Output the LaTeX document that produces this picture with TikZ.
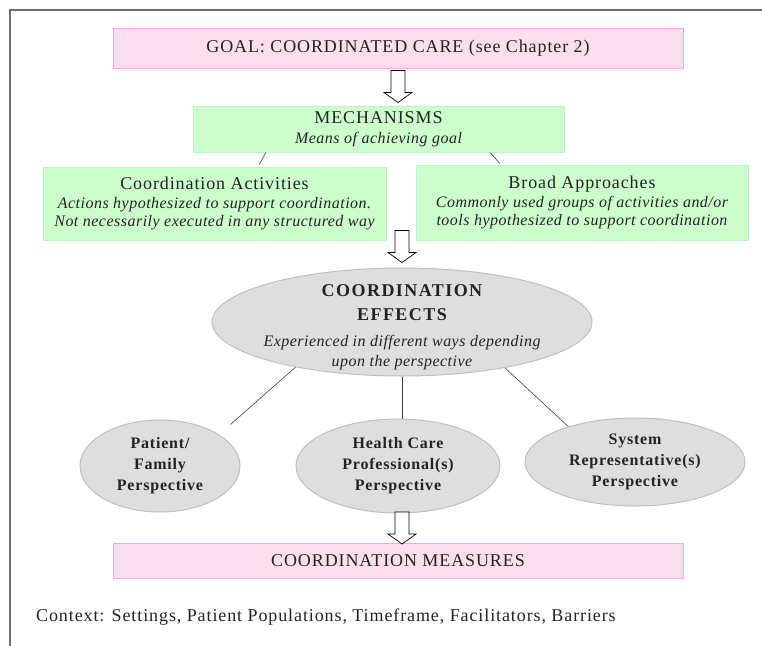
\documentclass[tikz,border=0pt]{standalone}
\usepackage{fontspec}
\setmainfont{Liberation Serif}
\newfontfamily\lsrm[LetterSpace=5]{Liberation Serif}
\newfontfamily\lsit[LetterSpace=3]{Liberation Serif}
\newfontfamily\lsbf[LetterSpace=5]{Liberation Serif}
\newfontfamily\lsbig[LetterSpace=8]{Liberation Serif}
\usetikzlibrary{shapes.geometric,calc}
\definecolor{pinkfill}{RGB}{252,222,238}
\definecolor{pinkline}{RGB}{255,165,208}
\definecolor{greenfill}{RGB}{204,255,204}
\definecolor{greenline}{RGB}{188,242,208}
\definecolor{grayfill}{RGB}{222,222,222}
\definecolor{grayline}{RGB}{192,192,192}
\definecolor{frameline}{RGB}{110,110,110}
\definecolor{txt}{RGB}{35,35,35}
\tikzset{
  pinkbox/.style={draw=pinkline, fill=pinkfill, line width=1pt, inner sep=0pt,
    minimum width=570pt, text=txt, font=\fontsize{18}{19}\selectfont\lsrm},
  greenbox/.style={draw=greenline, fill=greenfill, line width=1pt, inner sep=0pt,
    align=center, text=txt},
  grayell/.style={ellipse, draw=grayline, fill=grayfill, line width=1pt, inner sep=0pt,
    align=center, text=txt},
  linkline/.style={draw=black!75, line width=0.6pt},
  framestyle/.style={draw=frameline, line width=1.6pt},
  blockarrow/.style={draw=black, fill=white, line width=0.7pt, line join=miter},
  perstext/.style={font=\fontsize{16}{21}\selectfont\lsbf\bfseries}
}
\newcommand\arrowpath{(-7,-16) -- (7,-16) -- (7,6) -- (14,6) -- (0,16) -- (-14,6) -- (-7,6) -- cycle}
\begin{document}
\begin{tikzpicture}[x=1pt,y=-1pt]
\useasboundingbox (0,0) rectangle (762,645);
\fill[white] (0,0) rectangle (762,645);
\draw[framestyle] (10,646) -- (10,10) -- (763,10);

% boxes
\node[pinkbox, minimum height=40pt] (goal) at (398,48) {GOAL: COORDINATED CARE (see Chapter 2)};
\node[greenbox, minimum width=371pt, minimum height=46pt, font=\fontsize{16}{20}\selectfont] (mech) at (378.5,129)
  {{\fontsize{18}{20}\selectfont\lsrm MECHANISMS}\\{\lsit\itshape Means of achieving goal}};
\node[greenbox, minimum width=343pt, minimum height=73pt, font=\fontsize{16}{18.5}\selectfont] (act) at (214.5,203.5)
  {{\fontsize{18}{18.5}\selectfont\lsrm Coordination Activities}\\{\lsit\itshape Actions hypothesized to support coordination.}\\{\lsit\itshape Not necessarily executed in any structured way}};
\node[greenbox, minimum width=332pt, minimum height=75pt, font=\fontsize{16}{18.5}\selectfont] (broad) at (582,202.5)
  {{\fontsize{18}{18.5}\selectfont\lsrm Broad Approaches}\\{\lsit\itshape Commonly used groups of activities and/or}\\{\lsit\itshape tools hypothesized to support coordination}};

% effects ellipse
\node[grayell, minimum width=380pt, minimum height=108pt] (eff) at (402,322) {};
\node[align=center, text=txt, inner sep=0pt, font=\fontsize{16}{20}\selectfont] (efftext) at (402,327)
  {{\fontsize{18}{24}\selectfont\lsbig\bfseries COORDINATION}\\[4pt]{\fontsize{18}{24}\selectfont\lsbig\bfseries EFFECTS}\\[6pt]{\lsit\itshape Experienced in different ways depending}\\{\lsit\itshape upon the perspective}};

% perspectives
\node[grayell, minimum width=160pt, minimum height=92pt, perstext] (pat) at (160,466) {Patient/\\Family\\Perspective};
\node[grayell, minimum width=204pt, minimum height=94pt, perstext] (hcp) at (398,466) {Health Care\\Professional(s)\\Perspective};
\node[grayell, minimum width=220pt, minimum height=88pt, perstext] (sys) at (635,462) {System\\Representative(s)\\Perspective};

% measures
\node[pinkbox, minimum height=35pt] (meas) at (398,560.5) {COORDINATION MEASURES};

% context
\node[anchor=west, inner sep=0pt, text=txt, font=\fontsize{18}{19}\selectfont\lsrm] (ctx) at (36,617)
  {Context: Settings, Patient Populations, Timeframe, Facilitators, Barriers};

% connectors
\draw[linkline] ($(mech.south west)!0.197!(mech.south east)$) -- ($(act.north west)!0.63!(act.north east)+(0,-2)$);
\draw[linkline] ($(mech.south west)!0.80!(mech.south east)$) -- ($(broad.north west)!0.253!(broad.north east)+(0,-1)$);
\draw[linkline] (eff.203) -- ($(pat.east |- pat.north)+(-10,5)$);
\draw[linkline] (eff.south) -- (eff.south |- hcp.north);
\draw[linkline] (eff.-24) -- (sys.152);

% block arrows
\draw[blockarrow, shift={($(goal.south)+(0,18)$)}] \arrowpath;
\draw[blockarrow, shift={($(eff.north)+(0,-21)$)}] \arrowpath;
\draw[blockarrow, shift={($(hcp.south)!0.5!(meas.north)+(4,0)$)}] \arrowpath;
\end{tikzpicture}
\end{document}
